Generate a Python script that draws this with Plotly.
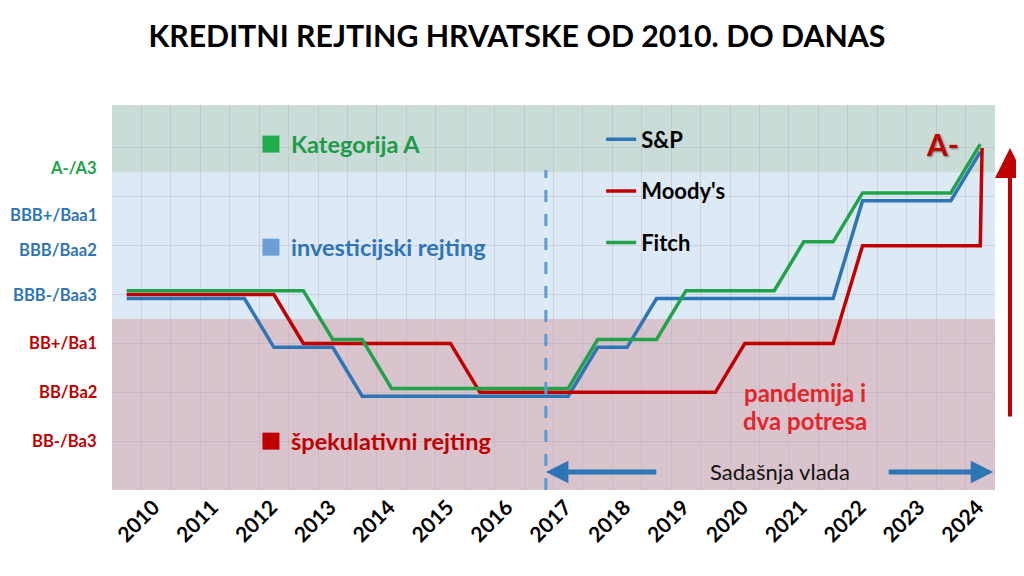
import plotly.graph_objects as go

title = "KREDITNI REJTING HRVATSKE OD 2010. DO DANAS"
years = list(range(2010, 2025))

# rating notches, lowest first (S&P / Fitch scale and Moody's scale)
notches = ["BB-", "BB", "BB+", "BBB-", "BBB", "BBB+", "A-"]
moodys_notches = ["Ba3", "Ba2", "Ba1", "Baa3", "Baa2", "Baa1", "A3"]

# one rating per half-year, 2010 H1 ... 2024 H2
sp = [
    "BBB-", "BBB-",  # 2010
    "BBB-", "BBB-",  # 2011
    "BBB-", "BB+",   # 2012
    "BB+", "BB+",    # 2013
    "BB", "BB",      # 2014
    "BB", "BB",      # 2015
    "BB", "BB",      # 2016
    "BB", "BB",      # 2017
    "BB+", "BB+",    # 2018
    "BBB-", "BBB-",  # 2019
    "BBB-", "BBB-",  # 2020
    "BBB-", "BBB-",  # 2021
    "BBB-", "BBB+",  # 2022
    "BBB+", "BBB+",  # 2023
    "BBB+", "A-",    # 2024
]
moodys = [
    "Baa3", "Baa3",  # 2010
    "Baa3", "Baa3",  # 2011
    "Baa3", "Baa3",  # 2012
    "Ba1", "Ba1",    # 2013
    "Ba1", "Ba1",    # 2014
    "Ba1", "Ba1",    # 2015
    "Ba2", "Ba2",    # 2016
    "Ba2", "Ba2",    # 2017
    "Ba2", "Ba2",    # 2018
    "Ba2", "Ba2",    # 2019
    "Ba2", "Ba1",    # 2020
    "Ba1", "Ba1",    # 2021
    "Ba1", "Baa2",   # 2022
    "Baa2", "Baa2",  # 2023
    "Baa2", "Baa2",  # 2024
]
moodys_last_upgrade = "A3"  # end of 2024
fitch = [
    "BBB-", "BBB-",  # 2010
    "BBB-", "BBB-",  # 2011
    "BBB-", "BBB-",  # 2012
    "BBB-", "BB+",   # 2013
    "BB+", "BB",     # 2014
    "BB", "BB",      # 2015
    "BB", "BB",      # 2016
    "BB", "BB",      # 2017
    "BB+", "BB+",    # 2018
    "BB+", "BBB-",   # 2019
    "BBB-", "BBB-",  # 2020
    "BBB-", "BBB",   # 2021
    "BBB", "BBB+",   # 2022
    "BBB+", "BBB+",  # 2023
    "BBB+", "A-",    # 2024
]
govt_start = 2017.37

BLUE = "#2e75b6"
RED = "#c00000"
GREEN = "#22a24a"
FONT = "Lato"

# half-year positions inside each year's box
px_x = [y + h for y in years for h in (0.25, 0.75)]


def lvl(r, scale=notches):
    return scale.index(r) + 1


sp_y = [lvl(r) - 0.08 for r in sp]
fitch_y = [lvl(r) + 0.08 for r in fitch]
moodys_y = [lvl(r, moodys_notches) for r in moodys] + [lvl(moodys_last_upgrade, moodys_notches)]
moodys_x = px_x + [px_x[-1] + 0.03]

fig = go.Figure()
fig.add_trace(go.Scatter(x=px_x, y=sp_y, mode="lines", name="<b>S&P</b>", legendgroup="a",
                         line=dict(color=BLUE, width=3.5)))
fig.add_trace(go.Scatter(x=moodys_x, y=moodys_y, mode="lines", name="<b>Moody's</b>", legendgroup="b",
                         line=dict(color=RED, width=3.5)))
fig.add_trace(go.Scatter(x=px_x, y=fitch_y, mode="lines", name="<b>Fitch</b>", legendgroup="c",
                         line=dict(color=GREEN, width=3.5)))

# rating bands
YTOP = 7.88
fig.add_shape(type="rect", xref="x", yref="y", x0=2010, x1=2025, y0=0, y1=3.5,
              fillcolor="#d9c3cd", line_width=0, layer="below")
fig.add_shape(type="rect", xref="x", yref="y", x0=2010, x1=2025, y0=3.5, y1=6.5,
              fillcolor="#dde9f5", line_width=0, layer="below")
fig.add_shape(type="rect", xref="x", yref="y", x0=2010, x1=2025, y0=6.5, y1=YTOP,
              fillcolor="#c9dcd7", line_width=0, layer="below")

# start of current government
fig.add_shape(type="line", xref="x", yref="y", x0=govt_start, x1=govt_start, y0=0, y1=6.55,
              line=dict(color="#5b9bd5", width=3, dash="12px,12px"))

# y labels
for i, (a, b) in enumerate(zip(notches, moodys_notches)):
    level = i + 1
    col = GREEN if level >= 7 else (BLUE if level >= 4 else RED)
    nudge = {7: -0.4, 6: -0.37, 5: -0.09}.get(level, 0)
    fig.add_annotation(xref="paper", yref="y", x=0, y=level + nudge, xanchor="right",
                       xshift=-13, text=f"<b>{a}/{b}</b>", showarrow=False,
                       font=dict(size=16.6, color=col, family=FONT))

# band legend
bands = [("Kategorija A", "#1fad4e", "#1e9a4a", 7.08),
         ("investicijski rejting", "#6a9fd8", BLUE, 4.97),
         ("špekulativni rejting", RED, RED, 1.0)]
for name, sq, col, yy in bands:
    fig.add_trace(go.Scatter(x=[2012.70], y=[yy], mode="markers", showlegend=False,
                             hoverinfo="skip",
                             marker=dict(symbol="square", size=17, color=sq)))
    fig.add_annotation(x=2013.0, y=yy, xanchor="left", text=f"<b>{name}</b>",
                       showarrow=False, font=dict(size=23.5, color=col, family=FONT))

fig.add_annotation(x=2024.10, y=7.08, text="<b>A-</b>", showarrow=False,
                   font=dict(size=30, color=RED, family=FONT,
                             shadow="1px 1px 2px rgba(0,0,0,0.45)"))
fig.add_annotation(x=2021.77, y=1.99, text="<b>pandemija i</b>",
                   showarrow=False, font=dict(size=24, color="#e3262a", family=FONT))
fig.add_annotation(x=2021.77, y=1.43, text="<b>dva potresa</b>",
                   showarrow=False, font=dict(size=24, color="#e3262a", family=FONT))
fig.add_annotation(x=2021.35, y=0.37, text="Sadašnja vlada", showarrow=False,
                   font=dict(size=22, color="#111111", family=FONT))
fig.add_annotation(x=govt_start, y=0.37, ax=112, ay=0, text="", showarrow=True,
                   arrowhead=2, arrowsize=0.9, arrowwidth=5, arrowcolor=BLUE)
fig.add_annotation(x=2024.97, y=0.37, ax=-106, ay=0, text="", showarrow=True,
                   arrowhead=2, arrowsize=0.9, arrowwidth=5, arrowcolor=BLUE)
fig.add_annotation(xref="paper", x=1.017, y=7, ax=0, ay=270, text="", showarrow=True,
                   arrowhead=2, arrowsize=1.5, arrowwidth=4, arrowcolor=RED)

# the page puts the figure 8px in from the top-left corner
fig.update_layout(
    width=1024, height=576,
    margin=dict(l=104, r=37, t=97, b=94),
    paper_bgcolor="white", plot_bgcolor="white",
    font=dict(family=FONT, color="black"),
    title=dict(text=f"<b>{title}</b>", x=0.497, xref="container", y=0.951,
               yref="container", xanchor="center", yanchor="middle",
               font=dict(size=30.3, color="black", family=FONT)),
    legend=dict(x=0.554, y=0.965, xanchor="left", yanchor="top", tracegroupgap=20,
                bgcolor="rgba(0,0,0,0)", font=dict(size=22, color="black", family=FONT),
                itemwidth=30),
    showlegend=True,
)

fig.update_xaxes(range=[2010, 2025], tickvals=[y + 0.5 for y in years],
                 ticktext=[f"<b>{y}</b>" for y in years], tickangle=-45,
                 tickfont=dict(size=21, color="black", family=FONT),
                 ticklabelshift=12, showgrid=False, zeroline=False, ticks="",
                 minor=dict(dtick=0.5, tick0=2010, showgrid=True,
                            gridcolor="rgba(170,170,185,0.35)", gridwidth=1))
fig.update_yaxes(range=[0, YTOP], tick0=0, dtick=1, showticklabels=False,
                 gridcolor="rgba(170,170,185,0.35)", zeroline=False)

fig.write_html("out.html")
